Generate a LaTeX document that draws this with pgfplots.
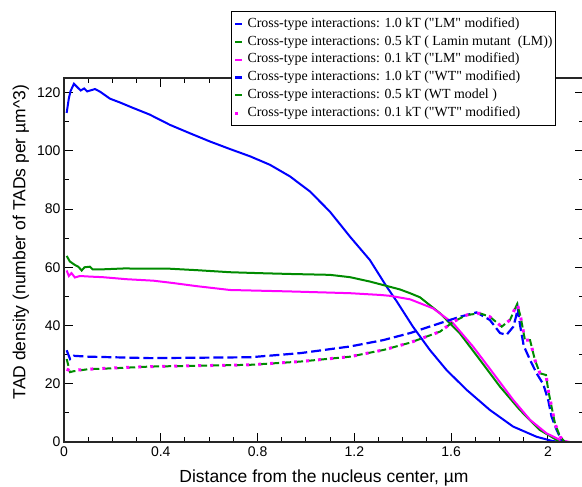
\documentclass[border=0pt]{standalone}
\usepackage{fontspec}
\setmainfont{Liberation Sans}
\newfontfamily\legfont{Liberation Serif}
\usepackage{pgfplots}
\pgfplotsset{compat=1.18}
\definecolor{grgreen}{RGB}{0,139,0}
\definecolor{mag}{RGB}{255,0,255}
\begin{document}
\begin{tikzpicture}[x=1pt,y=1pt]
\begin{axis}[
  at={(64pt,45pt)}, anchor=south west,
  scale only axis, width=520pt, height=364pt,
  xmin=0, xmax=2.149, ymin=0, ymax=125,
  clip=false,
  xtick={0,0.4,0.8,1.2,1.6,2}, minor x tick num=3,
  ytick={0,20,40,60,80,100,120}, minor y tick num=1,
  tick align=inside, major tick length=9pt, minor tick length=5pt,
  axis line style={draw=none},
  every tick/.style={line width=1pt, black},
  tick label style={font=\fontsize{14}{16}\selectfont},
  /pgf/number format/assume math mode=true,
  xticklabel style={yshift=-1pt},
  every axis x label/.style={at={(axis description cs:0.5,-0.099)}, anchor=center},
  every axis y label/.style={at={(axis description cs:-0.083,0.549)}, rotate=90, anchor=center},
  label style={font=\fontsize{17.5}{20}\selectfont},
  xlabel={Distance from the nucleus center, µm},
  ylabel={TAD density (number of TADs per µm\textasciicircum 3)},
  legend cell align=left,
  legend image code/.code={\draw[#1] (0pt,0pt) -- (7pt,0pt); \path (10pt,0pt);},
  legend style={at={(axis description cs:0.321,1.184)}, anchor=north west,
    draw=black, line width=1.2pt, inner xsep=2pt, inner ysep=4.5pt,
    font=\legfont\fontsize{13.9}{17}\selectfont, row sep=2.4pt,
    nodes={inner sep=1pt, text height=10pt, text depth=3.5pt}},
]
\addplot[blue, line width=2pt] coordinates {
(0.011,113) (0.02,118) (0.027,120.5) (0.041,123) (0.069,120.7) (0.083,121.4) (0.096,120.4) (0.128,121.2) (0.149,120.3) (0.19,117.9) (0.231,116.6) (0.286,114.7) (0.355,112.4) (0.438,108.9) (0.521,106) (0.603,103.2) (0.686,100.6) (0.769,98.1) (0.851,95.2) (0.934,91.2) (1.017,86) (1.099,79.1) (1.182,70.5) (1.264,62.5) (1.333,53.4) (1.375,48.3) (1.442,39.6) (1.512,31.6) (1.581,24.7) (1.664,17.9) (1.76,11) (1.856,5.3) (1.953,1.8) (2.02,0.3) (2.07,0)
};
\addlegendentry{Cross-type interactions: 1.0 kT ("LM" modified)}
\addplot[grgreen, line width=2pt] coordinates {
(0.011,63.9) (0.024,62) (0.045,60.8) (0.059,60.2) (0.073,58.9) (0.085,60) (0.107,60.2) (0.118,59.3) (0.162,59.3) (0.25,59.6) (0.35,59.5) (0.438,59.5) (0.55,59) (0.686,58.3) (0.8,58) (0.934,57.7) (1.099,57.4) (1.182,56.6) (1.264,55.1) (1.333,53.6) (1.388,52.4) (1.43,51.1) (1.471,49.7) (1.554,44.2) (1.636,37.3) (1.719,28.2) (1.802,19) (1.884,11) (1.967,4.1) (2.036,0.7) (2.08,0)
};
\addlegendentry{Cross-type interactions: 0.5 kT ( Lamin mutant\ \ (LM))\hspace{4pt}}
\addplot[mag, line width=2pt] coordinates {
(0.011,58.9) (0.02,57) (0.031,58) (0.045,56.5) (0.066,57) (0.107,56.8) (0.16,56.6) (0.259,55.9) (0.369,55.4) (0.45,54.6) (0.55,53.5) (0.686,52.2) (0.934,51.7) (1.182,51.1) (1.306,50.5) (1.347,50.2) (1.43,49) (1.525,45.9) (1.608,40.8) (1.691,32.7) (1.774,23.6) (1.857,14.4) (1.926,7.6) (1.994,3) (2.05,0.7) (2.09,0)
};
\addlegendentry{Cross-type interactions: 0.1 kT ("LM" modified)}
\addplot[blue, line width=2.2pt, dash pattern=on 10pt off 4pt] coordinates {
(0.011,31.5) (0.025,28.5) (0.04,29.6) (0.1,29.3) (0.355,28.8) (0.769,29.1) (0.975,30.5) (1.182,32.8) (1.32,35) (1.43,37.4) (1.554,40.8) (1.636,43) (1.705,44.5) (1.76,41.9) (1.802,37.4) (1.829,36.8) (1.857,39.6) (1.868,43) (1.875,46) (1.885,40) (1.9,33) (1.926,28.2) (1.953,23.6) (1.981,19.8) (2.001,14.4) (2.015,8.7) (2.036,4.1) (2.056,0.7) (2.07,0)
};
\addlegendentry{Cross-type interactions: 1.0 kT ("WT" modified)}
\addplot[grgreen, line width=2pt, dash pattern=on 7pt off 5pt] coordinates {
(0.011,28.5) (0.025,24) (0.04,24.3) (0.1,25) (0.2,25.3) (0.355,25.9) (0.769,26.5) (0.975,27.6) (1.182,29.3) (1.32,31.6) (1.43,34.1) (1.554,37.9) (1.609,41.3) (1.664,43.6) (1.719,44.2) (1.76,43) (1.809,39.6) (1.843,41.9) (1.873,47.4) (1.887,43) (1.905,35) (1.926,35) (1.946,28.2) (1.967,23.6) (1.992,23) (2.001,17.9) (2.015,12.1) (2.029,6.4) (2.05,1.8) (2.07,0)
};
\addlegendentry{Cross-type interactions: 0.5 kT (WT model )}
\addplot[mag, line width=3pt, dash pattern=on 3pt off 9pt] coordinates {
(0.011,25) (0.025,24.5) (0.04,24.6) (0.1,25) (0.2,25.4) (0.355,25.9) (0.769,26.5) (0.975,27.6) (1.182,29.3) (1.32,31.6) (1.43,34.1) (1.554,37.9) (1.609,41.3) (1.664,43.6) (1.719,44.2) (1.76,43) (1.809,39.6) (1.843,41.9) (1.873,47.6) (1.887,43) (1.905,35) (1.926,35) (1.946,28.2) (1.967,23.6) (1.992,23) (2.001,17.9) (2.015,12.1) (2.029,6.4) (2.05,1.8) (2.07,0)
};
\addlegendentry{Cross-type interactions: 0.1 kT ("WT" modified)}
\draw[line width=1.6pt, black!85, line cap=rect]
  (rel axis cs:1,1) -- (rel axis cs:0,1) -- (rel axis cs:0,0) -- (rel axis cs:1,0);
\end{axis}
\pgfresetboundingbox
\path[use as bounding box] (0,0) rectangle (582,487);
\end{tikzpicture}
\end{document}
